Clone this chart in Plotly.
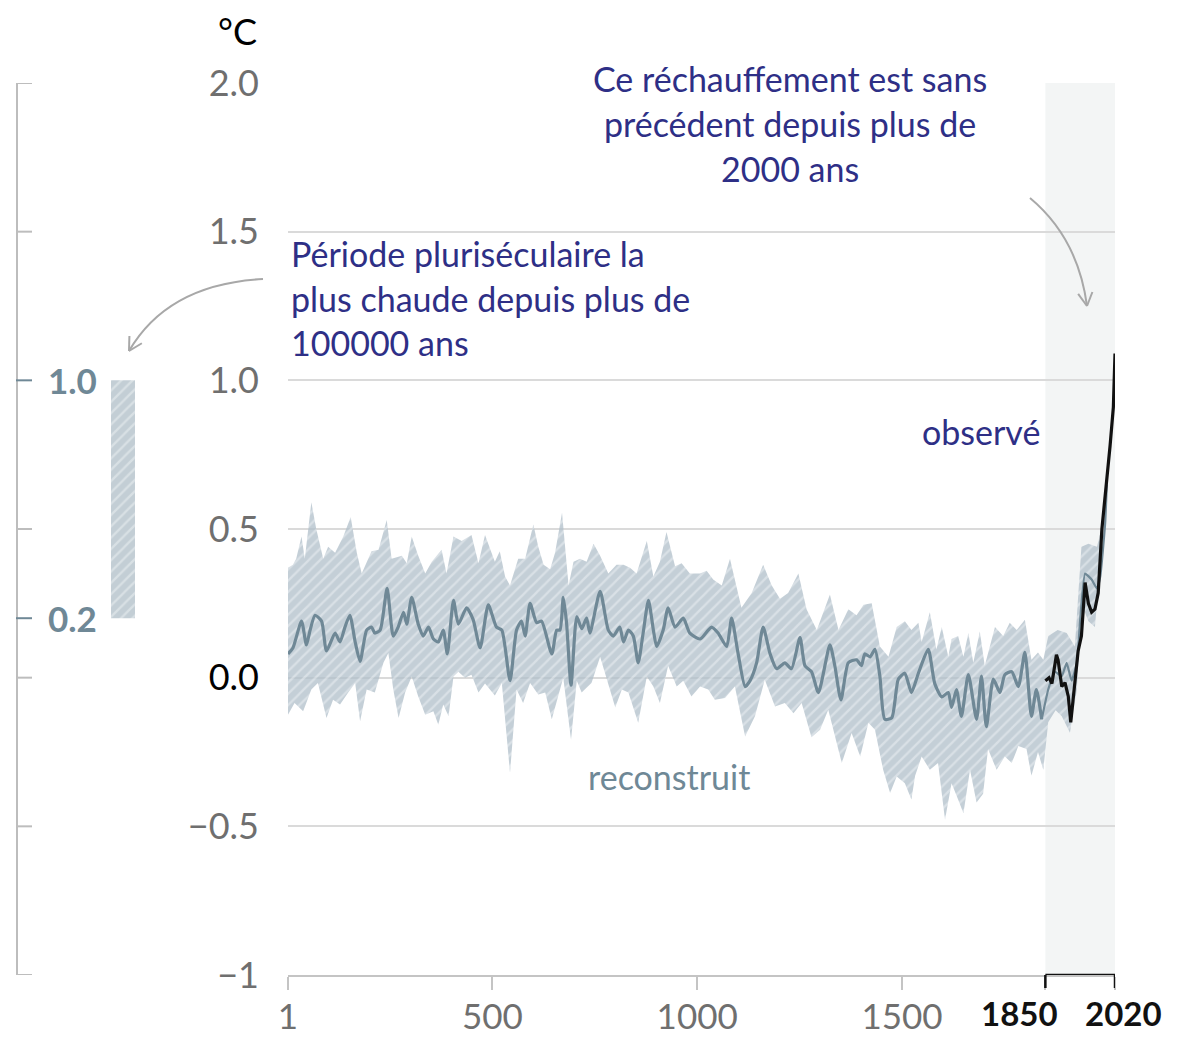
import math
import plotly.graph_objects as go

# ---------------------------------------------------------------- data
# Reconstructed global surface temperature change (°C), central estimate
recon_years = [1, 13, 34, 46, 55, 67, 83, 95, 116, 128, 140, 152, 165, 177, 193, 205, 213, 226,
               243, 258, 270, 283, 291, 303, 319, 331, 344, 356, 368, 380, 390, 405, 417, 437,
               453, 470, 490, 510, 523, 543, 559, 571, 580, 592, 608, 620, 645, 657, 665, 673,
               681, 692, 706, 718, 730, 738, 763, 783, 795, 811, 820, 832, 844, 856, 868, 881,
               893, 901, 917, 929, 946, 966, 982, 1007, 1027, 1035, 1051, 1072, 1084, 1100,
               1117, 1129, 1145, 1161, 1178, 1194, 1214, 1230, 1251, 1263, 1279, 1296, 1324,
               1336, 1351, 1369, 1389, 1401, 1409, 1422, 1434, 1446, 1458, 1475, 1491, 1507,
               1523, 1540, 1564, 1580, 1597, 1613, 1621, 1633, 1645, 1662, 1682, 1694, 1706,
               1723, 1739, 1751, 1768, 1784, 1800, 1816, 1828, 1841, 1857, 1873, 1890, 1902,
               1914, 1927, 1935, 1947, 1963, 1976, 1984, 1996, 2000]
recon_vals = [0.08, 0.10, 0.19, 0.11, 0.16, 0.21, 0.19, 0.09, 0.15, 0.12, 0.17, 0.21, 0.12, 0.055,
              0.16, 0.17, 0.15, 0.16, 0.30, 0.14, 0.17, 0.22, 0.18, 0.27, 0.18, 0.14, 0.17, 0.13,
              0.12, 0.16, 0.08, 0.26, 0.18, 0.235, 0.195, 0.10, 0.245, 0.17, 0.16, -0.01, 0.16,
              0.19, 0.14, 0.25, 0.185, 0.19, 0.08, 0.16, 0.16, 0.27, 0.185, -0.025, 0.205, 0.165,
              0.20, 0.15, 0.29, 0.16, 0.14, 0.17, 0.12, 0.16, 0.14, 0.05, 0.15, 0.26, 0.16,
              0.105, 0.16, 0.235, 0.17, 0.20, 0.15, 0.13, 0.16, 0.17, 0.15, 0.105, 0.20, 0.08,
              -0.03, -0.01, 0.05, 0.17, 0.08, 0.03, 0.05, 0.03, 0.135, 0.04, 0.02, -0.05, 0.11,
              0.04, -0.075, 0.05, 0.06, 0.04, 0.08, 0.07, 0.095, 0.005, -0.14, -0.135, -0.005,
              0.015, -0.05, 0.015, 0.095, -0.02, -0.065, -0.05, -0.10, -0.04, -0.13, 0.01, -0.14,
              0.005, -0.165, -0.005, -0.05, 0.01, 0.02, -0.03, 0.085, -0.13, -0.04, -0.14, -0.04,
              0.02, 0.005, 0.05, -0.01, 0.05, 0.195, 0.35, 0.33, 0.30, 0.34, 0.52, 0.65]

# Upper bound of the reconstruction range
upper_years = [1, 13, 21, 34, 42, 58, 70, 87, 99, 116, 136, 154, 169, 181, 205, 222, 242, 254,
               279, 291, 303, 319, 336, 352, 376, 388, 405, 425, 449, 466, 482, 506, 518, 531,
               543, 563, 580, 600, 612, 625, 641, 653, 670, 686, 698, 714, 730, 747, 763, 783,
               803, 820, 836, 852, 877, 893, 909, 925, 946, 962, 982, 1007, 1023, 1039, 1060,
               1080, 1108, 1133, 1161, 1182, 1202, 1222, 1247, 1267, 1292, 1324, 1345, 1369,
               1389, 1406, 1426, 1446, 1467, 1487, 1507, 1523, 1540, 1548, 1568, 1584, 1597,
               1613, 1621, 1637, 1650, 1662, 1674, 1690, 1702, 1727, 1747, 1763, 1780, 1800,
               1816, 1832, 1845, 1857, 1880, 1902, 1922, 1938, 1955, 1976, 1990, 1996]
upper_vals = [0.37, 0.38, 0.40, 0.475, 0.40, 0.59, 0.50, 0.40, 0.44, 0.42, 0.475, 0.54, 0.42,
              0.35, 0.425, 0.43, 0.53, 0.40, 0.41, 0.385, 0.475, 0.41, 0.35, 0.39, 0.43, 0.35,
              0.475, 0.46, 0.48, 0.385, 0.48, 0.39, 0.425, 0.34, 0.31, 0.40, 0.40, 0.515, 0.44,
              0.38, 0.365, 0.42, 0.555, 0.31, 0.39, 0.40, 0.39, 0.45, 0.41, 0.35, 0.38, 0.38,
              0.37, 0.35, 0.46, 0.34, 0.39, 0.49, 0.375, 0.385, 0.35, 0.35, 0.36, 0.33, 0.31,
              0.40, 0.235, 0.285, 0.38, 0.31, 0.265, 0.285, 0.35, 0.23, 0.16, 0.28, 0.16, 0.23,
              0.21, 0.245, 0.25, 0.105, 0.07, 0.17, 0.19, 0.16, 0.185, 0.12, 0.22, 0.095, 0.17,
              0.07, 0.13, 0.14, 0.07, 0.15, 0.05, 0.155, 0.04, 0.17, 0.14, 0.185, 0.16, 0.195,
              0.06, 0.085, 0.06, 0.14, 0.16, 0.15, 0.105, 0.44, 0.45, 0.44, 0.52, 0.58]

# Lower bound of the reconstruction range
lower_years = [1, 17, 38, 58, 74, 95, 111, 128, 148, 165, 177, 193, 213, 234, 246, 258, 271,
               287, 303, 319, 336, 356, 368, 380, 393, 405, 417, 433, 449, 466, 482, 506, 523,
               543, 559, 575, 592, 612, 629, 645, 661, 673, 692, 706, 718, 742, 763, 779, 800,
               816, 832, 856, 877, 893, 909, 929, 950, 966, 986, 1007, 1027, 1043, 1068, 1092,
               1117, 1141, 1165, 1190, 1214, 1235, 1255, 1279, 1300, 1320, 1353, 1377, 1398,
               1418, 1434, 1454, 1471, 1487, 1507, 1523, 1532, 1548, 1568, 1588, 1605, 1621,
               1637, 1650, 1666, 1682, 1698, 1710, 1731, 1751, 1768, 1784, 1804, 1816, 1832,
               1845, 1857, 1875, 1890, 1910, 1927, 1938, 1955, 1971, 1978, 1991, 1996]
lower_vals = [-0.125, -0.085, -0.113, -0.04, -0.018, -0.136, -0.074, -0.09, -0.05, -0.018,
              -0.147, -0.04, -0.05, 0.05, 0.083, -0.04, -0.136, -0.05, 0.004, -0.063, -0.125,
              -0.113, -0.158, -0.09, -0.13, 0.004, 0.02, 0.0, 0.01, -0.05, -0.02, -0.06, -0.018,
              -0.32, -0.04, -0.085, -0.018, -0.057, -0.05, -0.14, -0.063, 0.0, -0.21, -0.01,
              -0.05, -0.018, 0.07, -0.007, -0.10, -0.04, -0.05, -0.152, 0.004, -0.03, -0.085,
              0.04, -0.03, -0.01, -0.063, -0.03, -0.04, -0.074, -0.068, -0.03, -0.198, -0.13,
              -0.007, -0.097, -0.085, -0.12, -0.085, -0.20, -0.175, -0.108, -0.287, -0.186,
              -0.265, -0.152, -0.175, -0.31, -0.388, -0.332, -0.355, -0.41, -0.33, -0.265,
              -0.31, -0.287, -0.478, -0.355, -0.41, -0.456, -0.31, -0.42, -0.39, -0.24, -0.31,
              -0.265, -0.287, -0.23, -0.24, -0.33, -0.25, -0.31, -0.15, -0.11, -0.13, -0.185,
              -0.04, 0.25, 0.19, 0.17, 0.27, 0.50, 0.58]

# Observed global surface temperature change (°C)
obs_years = [1850, 1859, 1866, 1877, 1881, 1890, 1898, 1906, 1912, 1922, 1930, 1938, 1947,
             1955, 1963, 1971, 1979, 1988, 2000, 2008, 2016, 2020]
obs_vals = [-0.01, 0.0, -0.02, 0.077, 0.06, -0.03, -0.017, -0.063, -0.15, -0.02, 0.09, 0.14,
            0.32, 0.25, 0.22, 0.23, 0.285, 0.50, 0.655, 0.78, 0.91, 1.09]

# Warmest multi-century period in more than 100,000 years (°C range)
warm_period_low = 0.2
warm_period_high = 1.0

y_ticks = [2.0, 1.5, 1.0, 0.5, 0.0, -0.5, -1.0]
y_tick_labels = ["2.0", "1.5", "1.0", "0.5", "<span style='color:#000000'>0.0</span>",
                 "−0.5", "−1"]
x_ticks = [1, 500, 1000, 1500, 1850, 2020]
x_tick_labels = ["1", "500", "1000", "1500", "", ""]
recent_years = [1850, 2020]
side_ticks = [2.0, 1.5, 1.0, 0.5, 0.2, 0.0, -0.5, -1.0]

# ---------------------------------------------------------------- layout helpers
W, H = 1177, 1037
PL, PR, PT, PB = 288, 1115, 83, 975


def fx(p):
    return p / W


def fy(p):
    return (PB - p) / (PB - PT)


FONT = "Lato"
GREY_TXT = "#6f6f6f"
BLUE_GREY = "#6f8896"
NAVY = "#2e2f86"
ARROW = "#a8a8a8"

fig = go.Figure()

# reconstruction range (hatched band)
band_x = upper_years + lower_years[::-1]
band_y = upper_vals + lower_vals[::-1]
fig.add_trace(go.Scatter(
    x=band_x, y=band_y, mode="lines", fill="toself",
    line=dict(width=0, color="rgba(0,0,0,0)"),
    fillcolor="rgba(176,191,201,0.75)",
    fillpattern=dict(shape="/", bgcolor="rgba(176,191,201,0.75)",
                     fgcolor="rgba(245,248,250,0.85)", size=8, solidity=0.28),
    hoverinfo="skip", showlegend=False))

# reconstruction central line, thinner over the instrumental period
split = recon_years.index(1841)
fig.add_trace(go.Scatter(x=recon_years[:split + 1], y=recon_vals[:split + 1], mode="lines",
                         line=dict(color=BLUE_GREY, width=3.2, shape="spline", smoothing=0.6),
                         showlegend=False))
fig.add_trace(go.Scatter(x=recon_years[split:], y=recon_vals[split:], mode="lines",
                         line=dict(color=BLUE_GREY, width=2.2, shape="spline", smoothing=0.4),
                         showlegend=False))

# observations
fig.add_trace(go.Scatter(x=obs_years, y=obs_vals, mode="lines",
                         line=dict(color="#111111", width=3.2), showlegend=False))

# side bar: warmest multi-century period
fig.add_trace(go.Bar(
    x=[123], y=[warm_period_high - warm_period_low], base=[warm_period_low], width=[24],
    xaxis="x2", yaxis="y2",
    marker=dict(color="#c3ced5", line=dict(width=0),
                pattern=dict(shape="/", bgcolor="#c3ced5", fgcolor="#eef2f4",
                             size=8, solidity=0.28)),
    showlegend=False, hoverinfo="skip"))

shapes = []
# instrumental period shading
shapes.append(dict(type="rect", xref="x", yref="paper", x0=1850, x1=2020, y0=0, y1=1,
                   fillcolor="#f3f5f5", line=dict(width=0), layer="below"))
# white boxes behind text blocks
shapes.append(dict(type="rect", xref="paper", yref="paper", x0=fx(548), x1=fx(1027),
                   y0=fy(195), y1=fy(55), fillcolor="white", line=dict(width=0),
                   layer="between"))
shapes.append(dict(type="rect", xref="paper", yref="paper", x0=fx(275), x1=fx(724),
                   y0=fy(368), y1=fy(225), fillcolor="white", line=dict(width=0),
                   layer="between"))
# bracket marking 1850-2020 on the time axis
shapes.append(dict(type="line", xref="x", yref="y", x0=recent_years[0], x1=recent_years[1],
                   y0=-1, y1=-1, line=dict(color="#111111", width=2.5), layer="above"))
for yr in recent_years:
    shapes.append(dict(type="line", xref="x", yref="paper", x0=yr, x1=yr, y0=0,
                       y1=-13 / (PB - PT), line=dict(color="#111111", width=2.5),
                       layer="above"))
# side axis
shapes.append(dict(type="line", xref="paper", yref="y", x0=fx(17), x1=fx(17),
                   y0=-1, y1=2, line=dict(color="#bdbdbd", width=2)))
for v in side_ticks:
    col = BLUE_GREY if v in (warm_period_low, warm_period_high) else "#bdbdbd"
    shapes.append(dict(type="line", xref="paper", yref="y", x0=fx(16), x1=fx(32),
                       y0=v, y1=v, line=dict(color=col, width=2)))


def curved_arrow(p0, c, p1, head=15):
    """Quadratic curve from p0 to p1 (pixel coords) with an open arrow head at p1."""
    out = [dict(type="path", xref="paper", yref="paper",
                path=f"M {fx(p0[0])},{fy(p0[1])} Q {fx(c[0])},{fy(c[1])} {fx(p1[0])},{fy(p1[1])}",
                line=dict(color=ARROW, width=2))]
    dx, dy = p1[0] - c[0], p1[1] - c[1]
    n = math.hypot(dx, dy)
    ux, uy = dx / n, dy / n
    for ang in (0.5, -0.5):
        ca, sa = math.cos(ang), math.sin(ang)
        bx = -(ux * ca - uy * sa) * head
        by = -(ux * sa + uy * ca) * head
        out.append(dict(type="line", xref="paper", yref="paper",
                        x0=fx(p1[0]), y0=fy(p1[1]), x1=fx(p1[0] + bx), y1=fy(p1[1] + by),
                        line=dict(color=ARROW, width=2)))
    return out


shapes += curved_arrow((263, 279), (168, 284), (129, 351))
shapes += curved_arrow((1030, 198), (1078, 238), (1087, 306))

ann = []
ann.append(dict(text="°C", xref="paper", yref="paper", x=fx(259), y=fy(31),
                xanchor="right", yanchor="middle", showarrow=False,
                font=dict(family=FONT, size=36, color="#000000")))
for i, line in enumerate(["Ce réchauffement est sans", "précédent depuis plus de",
                          "2000 ans"]):
    ann.append(dict(text=line, xref="paper", yref="paper", x=fx(790), y=fy(79 + 45 * i),
                    xanchor="center", yanchor="middle", showarrow=False,
                    font=dict(family=FONT, size=34, color=NAVY)))
for i, line in enumerate(["Période pluriséculaire la", "plus chaude depuis plus de",
                          "100000 ans"]):
    ann.append(dict(text=line, xref="paper", yref="paper", x=fx(289), y=fy(253 + 45 * i),
                    xanchor="left", yanchor="middle", showarrow=False,
                    font=dict(family=FONT, size=34, color=NAVY)))
ann.append(dict(text="observé", xref="paper", yref="paper", x=fx(920), y=fy(431),
                xanchor="left", yanchor="middle", showarrow=False,
                font=dict(family=FONT, size=34, color=NAVY)))
ann.append(dict(text="reconstruit", xref="paper", yref="paper", x=fx(586), y=fy(776),
                xanchor="left", yanchor="middle", showarrow=False,
                font=dict(family=FONT, size=34, color=BLUE_GREY)))
for v in (warm_period_high, warm_period_low):
    ann.append(dict(text=f"<b>{v:.1f}</b>", xref="paper", yref="y", x=fx(99), y=v,
                    xanchor="right", yanchor="middle", showarrow=False,
                    font=dict(family=FONT, size=35, color=BLUE_GREY)))
# bold labels for the instrumental period bracket
ann.append(dict(text=f"<b>{recent_years[0]}</b>", xref="x", yref="paper", x=recent_years[0],
                y=fy(1013), xanchor="right", xshift=15, yanchor="middle", showarrow=False,
                font=dict(family=FONT, size=33, color="#111111")))
ann.append(dict(text=f"<b>{recent_years[1]}</b>", xref="x", yref="paper", x=recent_years[1],
                y=fy(1013), xanchor="left", xshift=-32, yanchor="middle", showarrow=False,
                font=dict(family=FONT, size=33, color="#111111")))

fig.update_layout(
    width=W, height=H,
    margin=dict(l=0, r=0, t=PT, b=H - PB, pad=0, autoexpand=False),
    paper_bgcolor="white", plot_bgcolor="white",
    showlegend=False,
    xaxis=dict(domain=[fx(PL), fx(PR)], range=[1, 2020], showgrid=False, zeroline=False,
               showline=True, linecolor="#c4c4c4", linewidth=2,
               ticks="outside", ticklen=13, tickwidth=2, tickcolor="#c4c4c4",
               tickvals=x_ticks, ticktext=x_tick_labels, tickangle=0, automargin=False,
               ticklabelstandoff=-3,
               tickfont=dict(family=FONT, size=35, color=GREY_TXT), anchor="y"),
    yaxis=dict(range=[-1, 2], tickvals=y_ticks, ticktext=y_tick_labels, showgrid=True,
               gridcolor="#dadada", gridwidth=2, zeroline=False, showline=False,
               ticks="", ticklabelstandoff=28, automargin=False,
               tickfont=dict(family=FONT, size=36, color=GREY_TXT), anchor="x"),
    xaxis2=dict(domain=[0, fx(246)], range=[0, 246], visible=False, anchor="y2"),
    yaxis2=dict(domain=[0, 1], range=[-1, 2], visible=False, anchor="x2"),
    shapes=shapes, annotations=ann,
)

fig.write_html("out.html")
